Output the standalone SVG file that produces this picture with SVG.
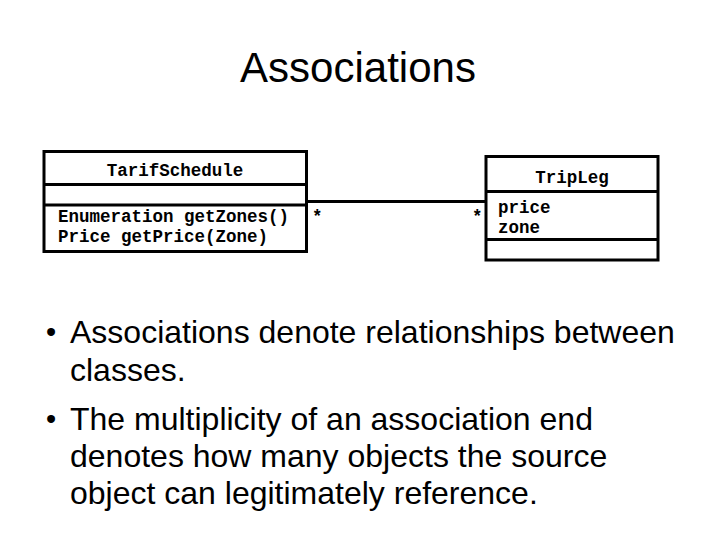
<svg xmlns="http://www.w3.org/2000/svg" width="720" height="540" viewBox="0 0 720 540">
<style>
.box{fill:#fff;stroke:#000;stroke-width:3}
.div{stroke:#000;stroke-width:3}
.mono{font-family:"Liberation Mono","Courier New",monospace;font-weight:bold;font-size:17.5px;fill:#000}
.sans{font-family:"Liberation Sans",Arial,sans-serif;fill:#000}
.conn{stroke:#000;stroke-width:3;fill:none}
.dot{font-size:29px}
</style>
<rect width="720" height="540" fill="#fff"/>
<text class="sans" x="358" y="82" font-size="42" text-anchor="middle">Associations</text>
<g id="connectors">
<line class="conn" x1="306" y1="201.5" x2="486" y2="201.5"/>
<text class="mono" x="312" y="222">*</text>
<text class="mono" x="472" y="222">*</text>
</g>
<g id="TarifSchedule">
<rect class="box" x="44" y="151.5" width="262.5" height="100"/>
<line class="div" x1="44" y1="184.5" x2="306.5" y2="184.5"/>
<line class="div" x1="44" y1="205" x2="306.5" y2="205"/>
<text class="mono" x="175" y="176" text-anchor="middle">TarifSchedule</text>
<text class="mono" x="58" y="222">Enumeration getZones()</text>
<text class="mono" x="58" y="242">Price getPrice(Zone)</text>
</g>
<g id="TripLeg">
<rect class="box" x="486" y="156.5" width="172" height="103.5"/>
<line class="div" x1="486" y1="191.5" x2="658" y2="191.5"/>
<line class="div" x1="486" y1="239.5" x2="658" y2="239.5"/>
<text class="mono" x="572" y="183" text-anchor="middle">TripLeg</text>
<text class="mono" x="498" y="213">price</text>
<text class="mono" x="498" y="233">zone</text>
</g>
<g id="bullets" class="sans" font-size="32">
<text class="dot" x="46" y="342">•</text>
<text x="70" y="343">Associations denote relationships between</text>
<text x="70" y="381">classes.</text>
<text class="dot" x="46" y="429">•</text>
<text x="70" y="430">The multiplicity of an association end</text>
<text x="70" y="467">denotes how many objects the source</text>
<text x="70" y="504">object can legitimately reference.</text>
</g>
</svg>
